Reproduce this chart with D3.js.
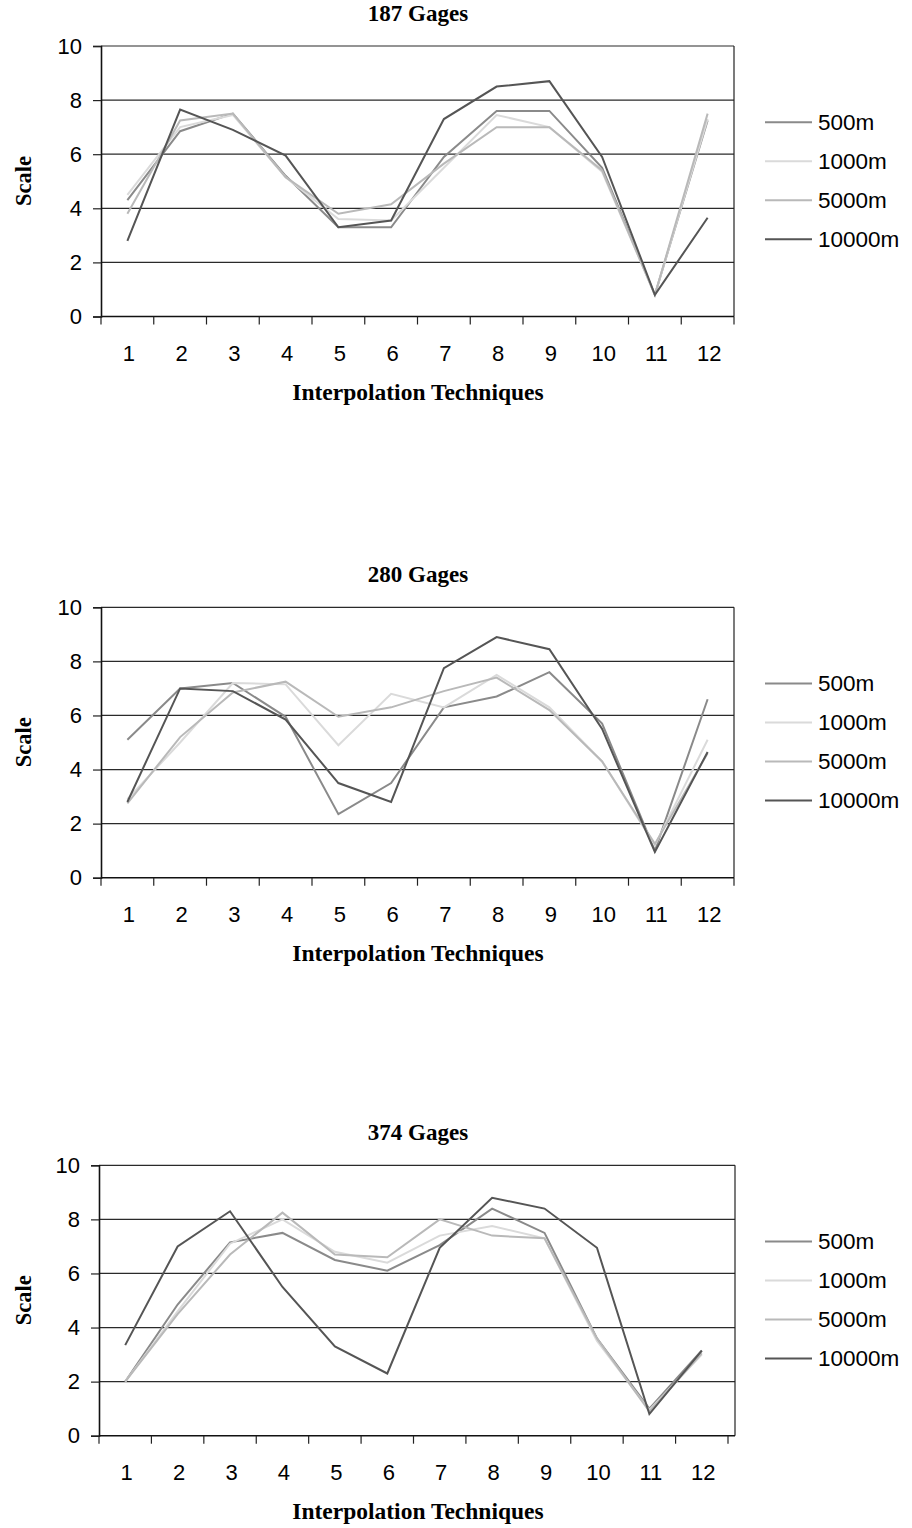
<!DOCTYPE html>
<html>
<head>
<meta charset="utf-8">
<script src="https://cdn.jsdelivr.net/npm/d3@7"></script>
<style>
  html, body { margin: 0; padding: 0; background: #fff; }
  svg { display: block; }
</style>
</head>
<body>
<svg id="chart" width="912" height="1528"></svg>
<script>
// ---------- data ----------
const categories = ["1","2","3","4","5","6","7","8","9","10","11","12"];
const seriesNames = ["500m","1000m","5000m","10000m"];
const yTicks = [0, 2, 4, 6, 8, 10];
const titles = ["187 Gages", "280 Gages", "374 Gages"];

const g187_500   = [4.3, 6.85, 7.5, 5.2, 3.3, 3.3, 5.9, 7.6, 7.6, 5.5, 0.8, 7.25];
const g187_1000  = [4.5, 7.0, 7.45, 5.15, 3.6, 3.55, 5.5, 7.45, 7.0, 5.35, 0.8, 7.3];
const g187_5000  = [3.8, 7.25, 7.5, 5.15, 3.8, 4.15, 5.65, 7.0, 7.0, 5.4, 0.8, 7.5];
const g187_10000 = [2.8, 7.65, 6.9, 5.95, 3.3, 3.55, 7.3, 8.5, 8.7, 5.9, 0.8, 3.65];

const g280_500   = [5.1, 7.0, 7.2, 5.95, 2.35, 3.5, 6.3, 6.7, 7.6, 5.7, 1.0, 6.6];
const g280_1000  = [2.9, 5.0, 7.2, 7.15, 4.9, 6.8, 6.3, 7.5, 6.3, 4.3, 1.2, 5.1];
const g280_5000  = [2.75, 5.2, 6.85, 7.25, 5.95, 6.3, 6.9, 7.4, 6.2, 4.3, 1.25, 4.6];
const g280_10000 = [2.8, 7.0, 6.9, 5.85, 3.5, 2.8, 7.75, 8.9, 8.45, 5.5, 0.95, 4.65];

const g374_500   = [2.0, 4.85, 7.15, 7.5, 6.5, 6.1, 7.05, 8.4, 7.5, 3.6, 1.0, 3.15];
const g374_1000  = [2.0, 4.6, 7.1, 8.0, 6.8, 6.4, 7.4, 7.75, 7.3, 3.5, 0.95, 3.0];
const g374_5000  = [2.0, 4.5, 6.7, 8.25, 6.7, 6.6, 8.0, 7.4, 7.3, 3.6, 0.9, 3.05];
const g374_10000 = [3.35, 7.0, 8.3, 5.5, 3.3, 2.3, 6.95, 8.8, 8.4, 6.95, 0.8, 3.15];

const chartSeries = [
  [g187_500, g187_1000, g187_5000, g187_10000],
  [g280_500, g280_1000, g280_5000, g280_10000],
  [g374_500, g374_1000, g374_5000, g374_10000]
];

// ---------- styling / layout ----------
const colors = ["#8a8a8a", "#dadada", "#b9b9b9", "#555555"];
const layouts = [
  { top: 46,    bottom: 316.5,  left: 101, axisRight: 734, boxRight: 734 },
  { top: 607.3, bottom: 877.7,  left: 101, axisRight: 734, boxRight: 734 },
  { top: 1165.3,bottom: 1435.7, left: 99,  axisRight: 728, boxRight: 735 }
];
const sansFont = "'Liberation Sans', Arial, Helvetica, sans-serif";
const serifFont = "'Liberation Serif', 'Times New Roman', serif";

const svg = d3.select("#chart");
svg.append("rect").attr("width", 912).attr("height", 1528).attr("fill", "#fff");

layouts.forEach((L, ci) => {
  const off = L.top - 46;
  const g = svg.append("g");

  const x = d3.scaleBand().domain(categories).range([L.left, L.axisRight]).padding(0);
  const y = d3.scaleLinear().domain([0, 10]).range([L.bottom, L.top]);
  const cx = c => x(c) + x.bandwidth() / 2;

  // gridlines
  g.append("g").selectAll("line").data(yTicks.filter(t => t > 0)).join("line")
    .attr("x1", L.left).attr("x2", L.boxRight)
    .attr("y1", d => y(d)).attr("y2", d => y(d))
    .attr("stroke", "#2a2a2a").attr("stroke-width", 1.2);

  // right border
  g.append("line").attr("x1", L.boxRight).attr("x2", L.boxRight)
    .attr("y1", L.top).attr("y2", L.bottom)
    .attr("stroke", "#222").attr("stroke-width", 1.2);

  // y axis
  const yAxis = g.append("g").attr("transform", `translate(${L.left},0)`)
    .call(d3.axisLeft(y).tickValues(yTicks).tickSize(8).tickPadding(11).tickFormat(d3.format("d")));
  yAxis.select(".domain").attr("stroke", "#111").attr("stroke-width", 1.6);
  yAxis.selectAll(".tick line").attr("stroke", "#222").attr("stroke-width", 1.2);
  yAxis.selectAll("text").attr("font-family", sansFont).attr("font-size", 22).attr("fill", "#000");

  // x axis
  const xAxis = g.append("g").attr("transform", `translate(0,${L.bottom})`)
    .call(d3.axisBottom(x).tickSize(0).tickPadding(28.5));
  xAxis.select(".domain").remove();
  xAxis.selectAll("text").attr("font-family", sansFont).attr("font-size", 22).attr("fill", "#000")
    .attr("dx", 1.5);
  g.append("line").attr("x1", L.left).attr("x2", L.boxRight)
    .attr("y1", L.bottom).attr("y2", L.bottom)
    .attr("stroke", "#111").attr("stroke-width", 1.6);
  const bounds = categories.map(c => x(c)).concat([L.axisRight]);
  g.append("g").selectAll("line").data(bounds).join("line")
    .attr("x1", d => d).attr("x2", d => d)
    .attr("y1", L.bottom).attr("y2", L.bottom + 8)
    .attr("stroke", "#222").attr("stroke-width", 1.2);

  // series lines
  const line = d3.line().x((d, i) => cx(categories[i])).y(d => y(d));
  chartSeries[ci].forEach((vals, si) => {
    g.append("path").datum(vals)
      .attr("d", line)
      .attr("fill", "none")
      .attr("stroke", colors[si])
      .attr("stroke-width", 2)
      .attr("stroke-linejoin", "miter");
  });

  // title
  g.append("text").attr("x", 418).attr("y", 21 + off)
    .attr("text-anchor", "middle")
    .attr("font-family", serifFont).attr("font-weight", "bold").attr("font-size", 23)
    .text(titles[ci]);

  // x axis title
  g.append("text").attr("x", 418).attr("y", 400 + off)
    .attr("text-anchor", "middle")
    .attr("font-family", serifFont).attr("font-weight", "bold").attr("font-size", 23.5)
    .text("Interpolation Techniques");

  // y axis title
  g.append("text").attr("transform", `translate(31,${181 + off}) rotate(-90)`)
    .attr("text-anchor", "middle")
    .attr("font-family", serifFont).attr("font-weight", "bold").attr("font-size", 22.5)
    .text("Scale");

  // legend
  const leg = g.append("g");
  seriesNames.forEach((name, si) => {
    const ly = 122.3 + off + si * 39;
    leg.append("line").attr("x1", 765).attr("x2", 812)
      .attr("y1", ly).attr("y2", ly)
      .attr("stroke", colors[si]).attr("stroke-width", 2);
    leg.append("text").attr("x", 818).attr("y", ly + 7.8)
      .attr("font-family", sansFont).attr("font-size", 22.5).attr("fill", "#000")
      .text(name);
  });
});
</script>
</body>
</html>
